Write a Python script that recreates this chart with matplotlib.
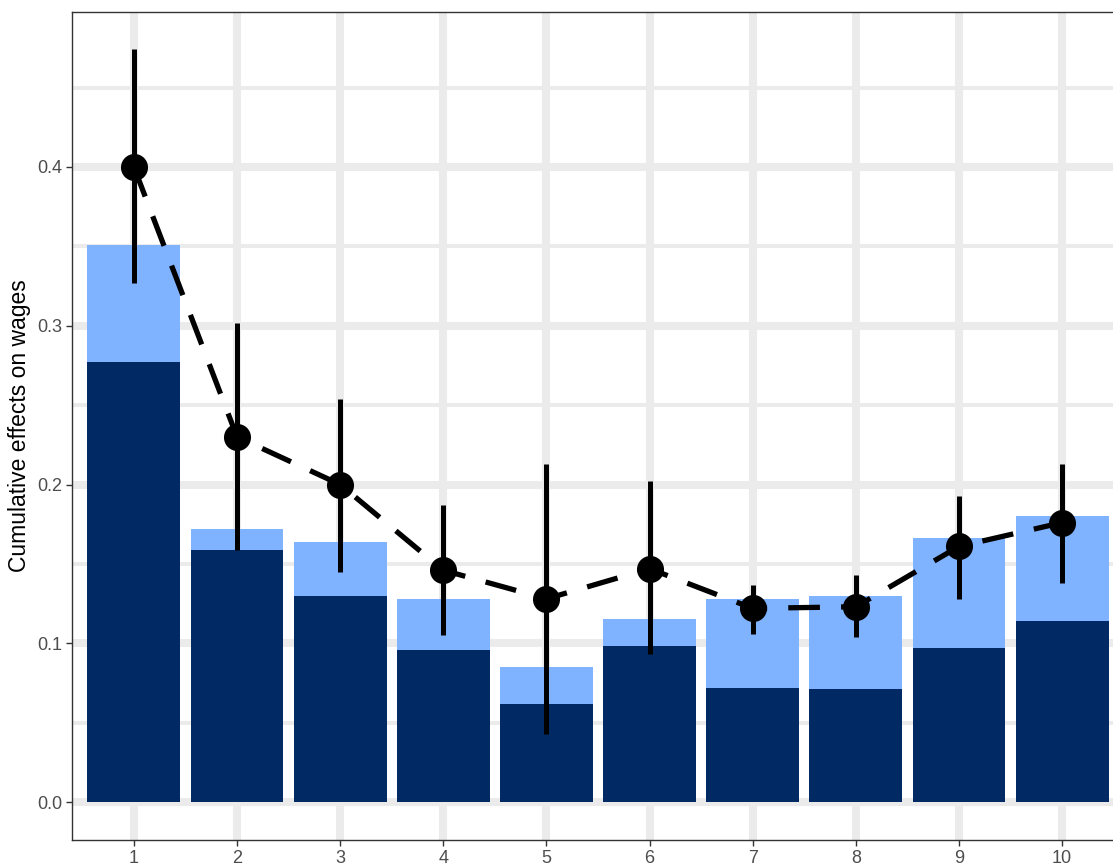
import matplotlib
matplotlib.use('Agg')
import matplotlib.pyplot as plt
from matplotlib.ticker import MultipleLocator

# values
periods = [1, 2, 3, 4, 5, 6, 7, 8, 9, 10]
total_bar = [0.351, 0.172, 0.164, 0.128, 0.085, 0.115, 0.128, 0.130, 0.166, 0.180]
inner_bar = [0.277, 0.159, 0.130, 0.096, 0.062, 0.098, 0.072, 0.071, 0.097, 0.114]
estimate = [0.400, 0.230, 0.200, 0.146, 0.128, 0.147, 0.122, 0.123, 0.161, 0.176]
ci_low = [0.327, 0.159, 0.145, 0.105, 0.043, 0.093, 0.106, 0.104, 0.128, 0.138]
ci_high = [0.474, 0.302, 0.254, 0.187, 0.213, 0.202, 0.137, 0.143, 0.193, 0.213]

plt.rcParams['font.family'] = ['Liberation Sans', 'DejaVu Sans']

W, H = 1113, 863
fig = plt.figure(figsize=(W / 100, H / 100), dpi=100)
# panel runs past the right edge of the picture, as in the reference
ax = fig.add_axes([72 / W, (H - 840) / H, (1124 - 72) / W, (840 - 12) / H])

grid_col = '#EBEBEB'
ax.set_axisbelow(True)
ax.yaxis.set_major_locator(MultipleLocator(0.1))
ax.yaxis.set_minor_locator(MultipleLocator(0.05))
ax.grid(which='major', axis='both', color=grid_col, lw=5.8)
ax.grid(which='minor', axis='y', color=grid_col, lw=2.9)

ax.bar(periods, total_bar, width=0.9, color='#80B3FF', zorder=2)
ax.bar(periods, inner_bar, width=0.9, color='#012A64', zorder=3)

ax.plot(periods, estimate, color='black', lw=3.8, linestyle=(0, (6, 4)),
        dash_capstyle='butt', zorder=4)
ax.vlines(periods, ci_low, ci_high, color='black', lw=3.6, zorder=5)
ax.scatter(periods, estimate, s=380, color='black', zorder=6, linewidths=0)

ax.set_xlim(0.4, 10.6)
ax.set_ylim(-0.0239, 0.4976)
ax.set_xticks(periods)
ax.set_xticklabels([str(p) for p in periods])
ax.yaxis.set_major_formatter(plt.FuncFormatter(lambda v, _: f'{v:.1f}'))

for s in ax.spines.values():
    s.set_color('#333333')
    s.set_linewidth(1.0)
ax.tick_params(which='major', length=4.5, width=1.0, color='#333333',
               labelcolor='#4D4D4D', labelsize=13, pad=2.5)
ax.tick_params(which='minor', length=0)

ax.set_ylabel('Cumulative effects on wages', fontsize=16.5, color='black')
ax.yaxis.set_label_coords(-0.039, 0.5)

fig.savefig('out.png', dpi=100)
